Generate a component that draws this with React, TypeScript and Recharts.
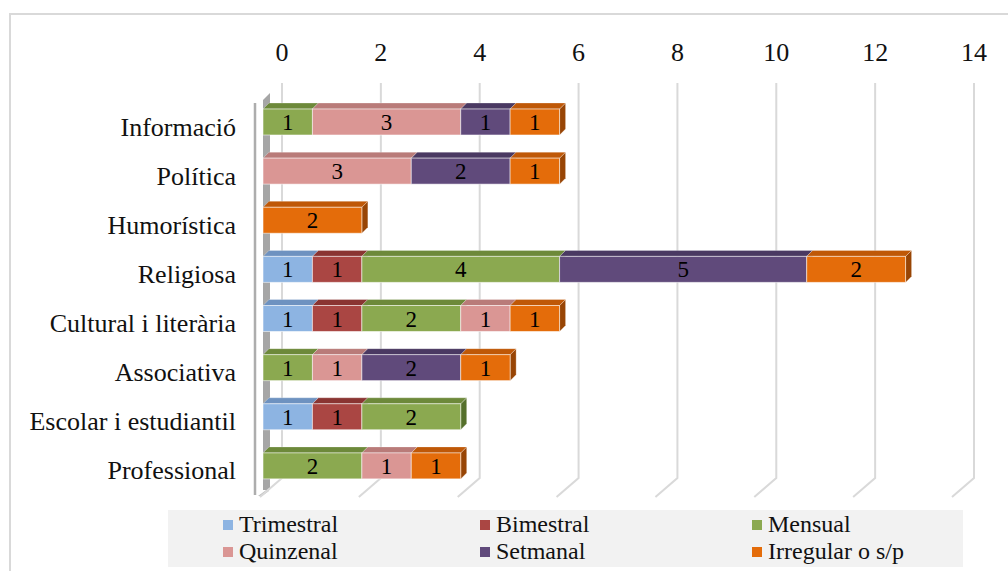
import React from 'react';
import { BarChart, Bar, XAxis, YAxis, CartesianGrid, LabelList, Legend } from 'recharts';

const categories = [
  'Informació',
  'Política',
  'Humorística',
  'Religiosa',
  'Cultural i literària',
  'Associativa',
  'Escolar i estudiantil',
  'Professional',
];
const trimestral = [null, null, null, 1, 1, null, 1, null];
const bimestral = [null, null, null, 1, 1, null, 1, null];
const mensual = [1, null, null, 4, 2, 1, 2, 2];
const quinzenal = [3, 3, null, null, 1, 1, null, 1];
const setmanal = [1, 2, null, 5, null, 2, null, null];
const irregular = [1, 1, 2, 2, 1, 1, null, 1];

const seriesNames = ['Trimestral', 'Bimestral', 'Mensual', 'Quinzenal', 'Setmanal', 'Irregular o s/p'];
const seriesKeys = ['trimestral', 'bimestral', 'mensual', 'quinzenal', 'setmanal', 'irregular'];
const seriesValues = [trimestral, bimestral, mensual, quinzenal, setmanal, irregular];
const xTicks = [0, 2, 4, 6, 8, 10, 12, 14];

const frontColors = ['#8DB4E2', '#AA4643', '#8BA950', '#DA9694', '#604A7B', '#E46C0A'];
const topColors = ['#6E92C0', '#8A3432', '#6D893A', '#B97B79', '#4A3962', '#BF5807'];
const sideColors = ['#56739A', '#6B2826', '#55702B', '#946160', '#392B4C', '#984505'];

const FONT = '"Liberation Serif", "Times New Roman", serif';
const DX = -19;
const D = 6;

const data = categories.map((c, i) => {
  const row: any = { category: c };
  seriesKeys.forEach((k, s) => {
    row[k] = seriesValues[s][i];
  });
  return row;
});

function makeShape(s: number) {
  return (props: any) => {
    const { x, y, width, height } = props;
    if (!width || width < 0.5) return <g />;
    const fx = x + DX;
    const top = `${fx},${y} ${fx + D},${y - D} ${fx + width + D},${y - D} ${fx + width},${y}`;
    const side = `${fx + width},${y} ${fx + width + D},${y - D} ${fx + width + D},${y + height - D} ${fx + width},${y + height}`;
    return (
      <g>
        <polygon points={side} fill={sideColors[s]} stroke="rgba(255,255,255,0.35)" strokeWidth={0.8} />
        <polygon points={top} fill={topColors[s]} stroke="rgba(255,255,255,0.35)" strokeWidth={0.8} />
        <rect x={fx} y={y} width={width} height={height} fill={frontColors[s]} stroke="rgba(255,255,255,0.55)" strokeWidth={1} />
      </g>
    );
  };
}

const renderLabel = (props: any) => {
  const vb = props.viewBox || {};
  const x = vb.x ?? props.x;
  const y = vb.y ?? props.y;
  const width = vb.width ?? props.width;
  const height = vb.height ?? props.height;
  const value = props.value;
  if (value == null || value === 0 || !width) return null;
  return (
    <text
      x={x + DX + width / 2}
      y={y + height / 2 + 8}
      textAnchor="middle"
      fontFamily={FONT}
      fontSize={23}
      fill="#000"
    >
      {value}
    </text>
  );
};

const renderVLine = (p: any) => {
  const { x1, y1, y2, index } = p;
  return (
    <g key={p.key ?? `vl-${index}`}>
      {index === 0 && (
        <g>
          <line x1={x1 - 27} y1={y1 + 6} x2={x1 - 27} y2={y2 + 5} stroke="#ADADAD" strokeWidth={2.5} />
          <polygon
            points={`${x1 - 19},${y1 + 3} ${x1 - 12},${y1 - 4} ${x1 - 12},${y2} ${x1 - 19},${y2}`}
            fill="#A6A6A6"
          />
          <polygon
            points={`${x1 - 24},${y2 + 6} ${x1 - 13},${y2 - 2} ${x1 - 13},${y2 + 1} ${x1 - 20},${y2 + 6}`}
            fill="#BFBFBF"
          />
        </g>
      )}
      <polyline
        points={`${x1},${y1 - 14} ${x1},${y2 - 12} ${x1 - 22},${y2 + 7}`}
        fill="none"
        stroke="#D9D9D9"
        strokeWidth={2}
      />
    </g>
  );
};

const XTick = (p: any) => (
  <text x={p.x} y={p.y - 36} textAnchor="middle" fontFamily={FONT} fontSize={26} fill="#111">
    {p.payload.value}
  </text>
);

const YTick = (p: any) => (
  <text x={p.x} y={p.y + 14} textAnchor="end" fontFamily={FONT} fontSize={26} fill="#111">
    {p.payload.value}
  </text>
);

const legendSquareLeft = [55, 312, 584];

const renderLegend = () => (
  <div
    style={{
      position: 'relative',
      width: 795,
      height: 57,
      background: '#F2F2F2',
      fontFamily: FONT,
      fontSize: 24,
      color: '#111',
    }}
  >
    {seriesNames.map((n, i) => {
      const col = i % 3;
      const row = Math.floor(i / 3);
      return (
        <div
          key={n}
          style={{
            position: 'absolute',
            left: legendSquareLeft[col],
            top: 1 + row * 27,
            height: 27,
            lineHeight: '27px',
            whiteSpace: 'nowrap',
          }}
        >
          <span
            style={{
              position: 'absolute',
              left: 0,
              top: 9,
              width: 10,
              height: 10,
              background: frontColors[i],
            }}
          />
          <span style={{ position: 'absolute', left: 16, top: 0 }}>{n}</span>
        </div>
      );
    })}
  </div>
);

export default function App() {
  return (
    <div
      style={{
        position: 'absolute',
        left: 0,
        top: 0,
        width: 1008,
        height: 571,
        overflow: 'hidden',
        background: '#fff',
      }}
    >
      <div
        style={{
          position: 'absolute',
          left: 9,
          top: 13,
          width: 1100,
          height: 700,
          border: '2px solid #D9D9D9',
        }}
      />
      <div style={{ position: 'absolute', left: 0, top: 0 }}>
        <BarChart
          width={1008}
          height={571}
          data={data}
          layout="vertical"
          margin={{ top: 57, right: 34, bottom: 81, left: 0 }}
        >
          <CartesianGrid horizontal={false} vertical={renderVLine} />
          <XAxis
            type="number"
            orientation="top"
            domain={[0, 14]}
            ticks={xTicks}
            height={40}
            axisLine={false}
            tickLine={false}
            tickSize={0}
            tickMargin={0}
            tick={<XTick />}
            interval={0}
          />
          <YAxis
            type="category"
            dataKey="category"
            width={282}
            axisLine={false}
            tickLine={false}
            tickSize={0}
            tickMargin={46}
            tick={<YTick />}
            interval={0}
          />
          <Legend
            layout="horizontal"
            verticalAlign="middle"
            align="center"
            wrapperStyle={{ left: 168, top: 510, width: 795, height: 57 }}
            content={renderLegend}
          />
          {seriesKeys.map((k, s) => (
            <Bar
              key={k}
              dataKey={k}
              name={seriesNames[s]}
              stackId="a"
              barSize={26}
              fill={frontColors[s]}
              isAnimationActive={false}
              shape={makeShape(s)}
            >
              <LabelList dataKey={k} content={renderLabel} />
            </Bar>
          ))}
        </BarChart>
      </div>
    </div>
  );
}
